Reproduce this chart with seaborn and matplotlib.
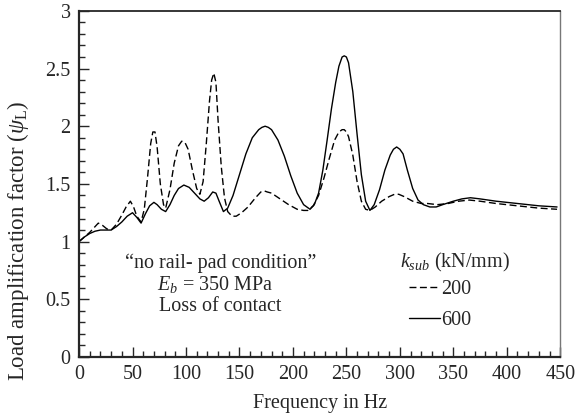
import seaborn as sns
import matplotlib.pyplot as plt
import pandas as pd

# frequency (Hz) / load amplification factor
freq_200 = [0, 5, 10, 14, 18, 22, 26, 30, 35, 40, 44, 48, 51, 54, 58, 61, 64, 67, 69, 71, 73, 76, 79, 81,
            85, 89, 93, 96, 99, 102, 106, 110, 113, 116, 119, 122, 124, 126, 128, 130, 133, 136, 139, 143, 147,
            152, 158, 165, 170, 173, 176, 180, 188, 196, 204, 210, 214, 219, 224, 229, 234, 239, 243, 246, 248,
            250, 252, 256, 260, 264, 268, 272, 277, 283, 290, 295, 299, 304, 312, 320, 326, 335, 345, 355,
            365, 375, 390, 410, 430, 447]
psi_200 = [1.00, 1.04, 1.08, 1.12, 1.16, 1.14, 1.11, 1.10, 1.15, 1.23, 1.30, 1.35, 1.30, 1.22, 1.17,
           1.28, 1.55, 1.85, 1.95, 1.95, 1.82, 1.50, 1.32, 1.29, 1.45, 1.68, 1.83, 1.87, 1.86, 1.80, 1.62,
           1.46, 1.41, 1.52, 1.85, 2.22, 2.40, 2.46, 2.38, 2.05, 1.65, 1.38, 1.26, 1.22, 1.22, 1.25, 1.30,
           1.38, 1.43, 1.44, 1.43, 1.42, 1.37, 1.32, 1.28, 1.27, 1.27, 1.31, 1.40, 1.55, 1.72, 1.88, 1.95,
           1.97, 1.97, 1.95, 1.91, 1.75, 1.52, 1.35, 1.28, 1.27, 1.30, 1.35, 1.39, 1.41, 1.41, 1.39, 1.35,
           1.33, 1.33, 1.32, 1.33, 1.35, 1.36, 1.35, 1.33, 1.31, 1.29, 1.28]

freq_600 = [0, 5, 10, 15, 20, 25, 30, 35, 40, 45, 50, 54, 58, 62, 66, 70, 73, 77, 81, 85, 89, 93, 98,
            103, 108, 113, 117, 121, 125, 128, 131, 135, 139, 144, 150, 156, 162, 168, 171, 174, 177, 180,
            186, 192, 198, 204, 210, 216, 220, 224, 228, 232, 236, 240, 243, 246, 248, 250, 252, 256, 260,
            264, 268, 272, 276, 281, 286, 291, 294, 297, 300, 303, 307, 312, 317, 322, 328, 334, 340, 350,
            358, 366, 375, 390, 410, 430, 447]
psi_600 = [1.00, 1.04, 1.07, 1.09, 1.10, 1.10, 1.10, 1.13, 1.17, 1.22, 1.25, 1.21, 1.16, 1.24, 1.31,
           1.34, 1.32, 1.28, 1.26, 1.32, 1.40, 1.46, 1.49, 1.47, 1.42, 1.37, 1.35, 1.38, 1.43, 1.42,
           1.35, 1.26, 1.29, 1.40, 1.58, 1.76, 1.90, 1.97, 1.99, 2.00, 1.99, 1.97, 1.88, 1.74, 1.57, 1.42,
           1.32, 1.28, 1.32, 1.42, 1.62, 1.88, 2.15, 2.38, 2.52, 2.60, 2.61, 2.60, 2.55, 2.30, 1.93, 1.58,
           1.35, 1.27, 1.32, 1.45, 1.62, 1.75, 1.80, 1.82, 1.80, 1.76, 1.62, 1.46, 1.36, 1.32, 1.30, 1.30,
           1.32, 1.35, 1.37, 1.38, 1.37, 1.35, 1.33, 1.31, 1.30]

df = pd.concat([
    pd.DataFrame({"f": freq_200, "psi": psi_200, "k": "200"}),
    pd.DataFrame({"f": freq_600, "psi": psi_600, "k": "600"}),
])

sns.set_style("ticks")
plt.rcParams["font.family"] = ["Liberation Serif", "DejaVu Serif"]
plt.rcParams["mathtext.fontset"] = "custom"
plt.rcParams["mathtext.rm"] = "Liberation Serif"
plt.rcParams["mathtext.it"] = "Liberation Serif:italic"

fig = plt.figure(figsize=(5.77, 4.17), dpi=100)
ax = fig.add_axes([0.137, 0.144, 0.834, 0.83])

sns.lineplot(data=df, x="f", y="psi", hue="k", style="k",
             palette={"200": "black", "600": "black"},
             dashes={"200": (5, 2.5), "600": ""},
             linewidth=1.0, sort=False, estimator=None, ax=ax)

ax.set_xlim(0, 450)
ax.set_ylim(0, 3)
ax.set_xticks(range(0, 451, 50))
ax.set_xticks(range(0, 451, 10), minor=True)
ax.set_yticks([0, 0.5, 1, 1.5, 2, 2.5, 3])
ax.set_yticklabels(["0", "0.5", "1", "1.5", "2", "2.5", "3"])
ax.set_yticks([i / 10 for i in range(31)], minor=True)
ax.tick_params(which="both", direction="in", top=False, right=False, labelsize=14.5, width=1)
ax.tick_params(which="major", length=7, pad=6)
ax.tick_params(which="minor", length=4)

for s in ["left", "bottom"]:
    ax.spines[s].set_linewidth(1.6)
ax.spines["top"].set_linewidth(1.3)
ax.spines["right"].set_linewidth(1.0)
ax.spines["right"].set_color("#777777")

ax.set_xlabel("Frequency in Hz", fontsize=14.5)
ax.xaxis.set_label_coords(0.5, -0.107)
ax.set_ylabel(r"Load amplification factor ($\psi_{\mathrm{L}}$)", fontsize=16.5)
ax.yaxis.set_label_coords(-0.10, 0.335)

ax.text(132, 0.815, "\u201cno rail- pad condition\u201d", ha="center", va="center", fontsize=14.5)
ax.text(127, 0.625, r"$E_b$ = 350 MPa", ha="center", va="center", fontsize=14.5)
ax.text(132, 0.435, "Loss of contact", ha="center", va="center", fontsize=14.5)

ax.text(300, 0.82, r"$k_{sub}$ (kN/mm)", ha="left", va="center", fontsize=14.5)
handles, labels = ax.get_legend_handles_labels()
leg = ax.legend(handles, labels, frameon=False,
                loc="upper left", bbox_to_anchor=(0.685, 0.222), fontsize=14.5,
                borderpad=0, borderaxespad=0, handlelength=1.55, handletextpad=0.05,
                labelspacing=0.6)

fig.savefig("out.png", dpi=100)
